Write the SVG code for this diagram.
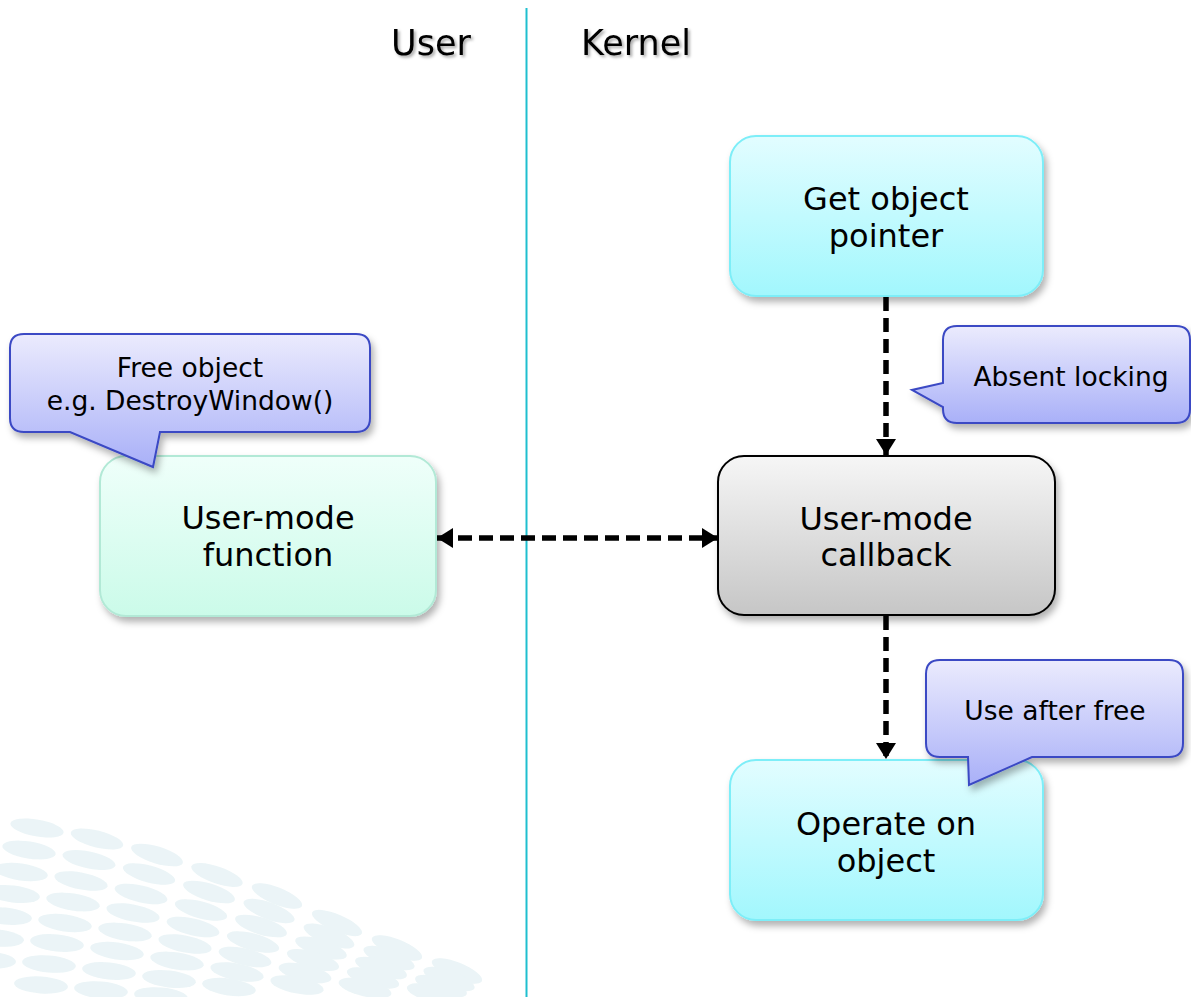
<svg xmlns="http://www.w3.org/2000/svg" width="1191" height="997" viewBox="0 0 1191 997">
<defs>
<style>
.hdr{font-family:"DejaVu Sans","Liberation Sans",sans-serif;font-size:35px;fill:#000;text-anchor:middle}
.nt{font-family:"DejaVu Sans","Liberation Sans",sans-serif;font-size:32px;fill:#000;text-anchor:middle}
.ct{font-family:"DejaVu Sans","Liberation Sans",sans-serif;font-size:26.5px;fill:#000;text-anchor:middle}
.conn{fill:none;stroke:#000;stroke-width:5.5;stroke-dasharray:14 7}
.dot{fill:#e4f1f4}
.callout{stroke:#3a48c4;stroke-width:2;fill:url(#gCall)}
</style>
<linearGradient id="gCyan" x1="0" y1="0" x2="0" y2="1"><stop offset="0" stop-color="#e2fdff"/><stop offset="1" stop-color="#a2f7fd"/></linearGradient>
<linearGradient id="gMint" x1="0" y1="0" x2="0" y2="1"><stop offset="0" stop-color="#effffa"/><stop offset="1" stop-color="#cbfbe9"/></linearGradient>
<linearGradient id="gGray" x1="0" y1="0" x2="0" y2="1"><stop offset="0" stop-color="#f6f6f6"/><stop offset="1" stop-color="#c6c6c6"/></linearGradient>
<linearGradient id="gCall" x1="0" y1="0" x2="0" y2="1"><stop offset="0" stop-color="#ebebfd"/><stop offset="1" stop-color="#a9b0f8"/></linearGradient>
<filter id="sh" x="-10%" y="-10%" width="125%" height="130%"><feDropShadow dx="3" dy="5" stdDeviation="3.5" flood-color="#000" flood-opacity="0.3"/></filter>
<filter id="tsh" x="-10%" y="-20%" width="130%" height="150%"><feDropShadow dx="2" dy="2" stdDeviation="1.5" flood-color="#000" flood-opacity="0.35"/></filter>
<marker id="ah" viewBox="0 0 16 20" refX="16" refY="10" markerWidth="16" markerHeight="20" markerUnits="userSpaceOnUse" orient="auto-start-reverse"><path d="M0,0 L16,10 L0,20 Z" fill="#000"/></marker>
<ellipse id="el" cx="0" cy="0" rx="27" ry="8.5"/>
</defs>
<rect width="1191" height="997" fill="#fff"/>
<g id="decor" class="dot" opacity="0.75">
<g transform="translate(37,828) rotate(10)"><use href="#el"/></g>
<g transform="translate(97,839) rotate(14)"><use href="#el"/></g>
<g transform="translate(157,855) rotate(17)"><use href="#el"/></g>
<g transform="translate(217,875) rotate(19)"><use href="#el"/></g>
<g transform="translate(277,896) rotate(22)"><use href="#el"/></g>
<g transform="translate(337,923) rotate(23)"><use href="#el"/></g>
<g transform="translate(397,948) rotate(22)"><use href="#el"/></g>
<g transform="translate(457,971) rotate(22)"><use href="#el"/></g>
<g transform="translate(29,850) rotate(9)"><use href="#el"/></g>
<g transform="translate(89,860) rotate(12)"><use href="#el"/></g>
<g transform="translate(149,874) rotate(15)"><use href="#el"/></g>
<g transform="translate(209,892) rotate(17)"><use href="#el"/></g>
<g transform="translate(269,911) rotate(20)"><use href="#el"/></g>
<g transform="translate(329,936) rotate(21)"><use href="#el"/></g>
<g transform="translate(389,958) rotate(20)"><use href="#el"/></g>
<g transform="translate(449,979) rotate(20)"><use href="#el"/></g>
<g transform="translate(21,872) rotate(8)"><use href="#el"/></g>
<g transform="translate(81,881) rotate(11)"><use href="#el"/></g>
<g transform="translate(141,894) rotate(13)"><use href="#el"/></g>
<g transform="translate(201,910) rotate(15)"><use href="#el"/></g>
<g transform="translate(261,926) rotate(17)"><use href="#el"/></g>
<g transform="translate(321,948) rotate(18)"><use href="#el"/></g>
<g transform="translate(381,968) rotate(17)"><use href="#el"/></g>
<g transform="translate(441,986) rotate(17)"><use href="#el"/></g>
<g transform="translate(13,894) rotate(7)"><use href="#el"/></g>
<g transform="translate(73,902) rotate(9)"><use href="#el"/></g>
<g transform="translate(133,913) rotate(11)"><use href="#el"/></g>
<g transform="translate(193,927) rotate(13)"><use href="#el"/></g>
<g transform="translate(253,942) rotate(15)"><use href="#el"/></g>
<g transform="translate(313,960) rotate(16)"><use href="#el"/></g>
<g transform="translate(373,978) rotate(15)"><use href="#el"/></g>
<g transform="translate(433,994) rotate(15)"><use href="#el"/></g>
<g transform="translate(5,916) rotate(6)"><use href="#el"/></g>
<g transform="translate(65,923) rotate(8)"><use href="#el"/></g>
<g transform="translate(125,932) rotate(9)"><use href="#el"/></g>
<g transform="translate(185,944) rotate(11)"><use href="#el"/></g>
<g transform="translate(245,957) rotate(13)"><use href="#el"/></g>
<g transform="translate(305,973) rotate(13)"><use href="#el"/></g>
<g transform="translate(365,988) rotate(13)"><use href="#el"/></g>
<g transform="translate(-3,938) rotate(5)"><use href="#el"/></g>
<g transform="translate(57,943) rotate(6)"><use href="#el"/></g>
<g transform="translate(117,951) rotate(8)"><use href="#el"/></g>
<g transform="translate(177,961) rotate(9)"><use href="#el"/></g>
<g transform="translate(237,972) rotate(11)"><use href="#el"/></g>
<g transform="translate(297,985) rotate(11)"><use href="#el"/></g>
<g transform="translate(-11,960) rotate(4)"><use href="#el"/></g>
<g transform="translate(49,964) rotate(5)"><use href="#el"/></g>
<g transform="translate(109,971) rotate(6)"><use href="#el"/></g>
<g transform="translate(169,979) rotate(7)"><use href="#el"/></g>
<g transform="translate(229,987) rotate(8)"><use href="#el"/></g>
<g transform="translate(41,985) rotate(4)"><use href="#el"/></g>
<g transform="translate(101,990) rotate(5)"><use href="#el"/></g>
<g transform="translate(161,996) rotate(5)"><use href="#el"/></g>
</g>
<g id="divider">
<line x1="526.5" y1="8" x2="526.5" y2="997" stroke="#1fbfcf" stroke-width="2"/>
</g>
<g id="headers" filter="url(#tsh)">
<text class="hdr" x="431" y="55">User</text>
<text class="hdr" x="636" y="55">Kernel</text>
</g>
<g id="connectors">
<line class="conn" x1="886" y1="297" x2="886" y2="455" marker-end="url(#ah)"/>
<line class="conn" x1="437" y1="538" x2="718" y2="538" marker-start="url(#ah)" marker-end="url(#ah)"/>
<line class="conn" x1="886" y1="616" x2="886" y2="759" marker-end="url(#ah)"/>
</g>
<g id="node-get-pointer">
<rect x="730" y="136" width="313" height="160" rx="26" fill="url(#gCyan)" stroke="#7deef8" stroke-width="2" filter="url(#sh)"/>
<text class="nt" x="886" y="210">Get object</text>
<text class="nt" x="886" y="247">pointer</text>
</g>
<g id="node-user-function">
<rect x="100" y="456" width="336" height="160" rx="26" fill="url(#gMint)" stroke="#b2e9d6" stroke-width="2" filter="url(#sh)"/>
<text class="nt" x="268" y="529">User-mode</text>
<text class="nt" x="268" y="566">function</text>
</g>
<g id="node-callback">
<rect x="718" y="456" width="337" height="159" rx="26" fill="url(#gGray)" stroke="#000" stroke-width="2" filter="url(#sh)"/>
<text class="nt" x="886" y="530">User-mode</text>
<text class="nt" x="886" y="566">callback</text>
</g>
<g id="node-operate">
<rect x="730" y="760" width="313" height="160" rx="26" fill="url(#gCyan)" stroke="#7deef8" stroke-width="2" filter="url(#sh)"/>
<text class="nt" x="886" y="835">Operate on</text>
<text class="nt" x="886" y="872">object</text>
</g>
<g id="callout-free">
<path class="callout" filter="url(#sh)" d="M24,334 H356 Q370,334 370,348 V418 Q370,432 356,432 H160 L153,467 L70,432 H24 Q10,432 10,418 V348 Q10,334 24,334 Z"/>
<text class="ct" x="190" y="377">Free object</text>
<text class="ct" x="190" y="410">e.g. DestroyWindow()</text>
</g>
<g id="callout-absent">
<path class="callout" filter="url(#sh)" d="M957,326 H1176 Q1190,326 1190,340 V409 Q1190,423 1176,423 H957 Q943,423 943,409 V407 L912,390 L943,383 V340 Q943,326 957,326 Z"/>
<text class="ct" x="1071" y="386">Absent locking</text>
</g>
<g id="callout-uaf">
<path class="callout" filter="url(#sh)" d="M940,660 H1169 Q1183,660 1183,674 V743 Q1183,757 1169,757 H1032 L969,785 L968,757 H940 Q926,757 926,743 V674 Q926,660 940,660 Z"/>
<text class="ct" x="1055" y="720">Use after free</text>
</g>
</svg>
